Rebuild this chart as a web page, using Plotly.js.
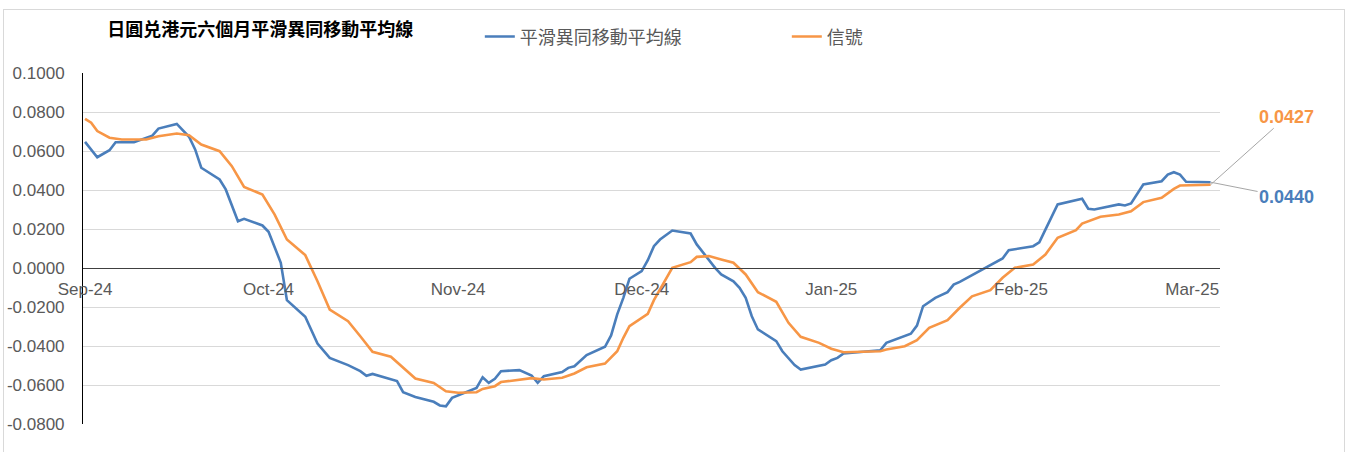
<!DOCTYPE html>
<html>
<head>
<meta charset="utf-8">
<script src="https://cdn.plot.ly/plotly-3.0.1.min.js"></script>
<style>
  html, body { margin: 0; padding: 0; background: #ffffff; }
  #frame { position: absolute; left: 3px; top: 9px; width: 1342px; height: 460px; border: 1px solid #d9d9d9; box-sizing: border-box; }
  #chart { position: absolute; left: 0; top: 0; width: 1354px; height: 452px; }
</style>
</head>
<body>
<div id="frame"></div>
<div id="chart"></div>
<script>
// ---- data ----
const chartTitle = "日圓兑港元六個月平滑異同移動平均線";
const macdName = "平滑異同移動平均線";
const signalName = "信號";

const macdDates = [
  "2024-09-01","2024-09-03","2024-09-05","2024-09-06","2024-09-09","2024-09-12","2024-09-13","2024-09-16",
  "2024-09-18","2024-09-19","2024-09-20","2024-09-23","2024-09-24","2024-09-26","2024-09-27","2024-09-30",
  "2024-10-01","2024-10-03","2024-10-04","2024-10-07","2024-10-09","2024-10-11","2024-10-14","2024-10-16",
  "2024-10-17","2024-10-18","2024-10-22","2024-10-23","2024-10-25","2024-10-28","2024-10-29","2024-10-30",
  "2024-10-31","2024-11-02","2024-11-04","2024-11-05","2024-11-06","2024-11-07","2024-11-08","2024-11-11",
  "2024-11-13","2024-11-14","2024-11-15","2024-11-18","2024-11-19","2024-11-20","2024-11-22","2024-11-25",
  "2024-11-26","2024-11-27","2024-11-28","2024-11-29","2024-12-01","2024-12-02","2024-12-03","2024-12-04",
  "2024-12-06","2024-12-09","2024-12-10","2024-12-13","2024-12-14","2024-12-16","2024-12-17","2024-12-18",
  "2024-12-19","2024-12-20","2024-12-23","2024-12-24","2024-12-26","2024-12-27","2024-12-30","2024-12-31",
  "2025-01-01","2025-01-02","2025-01-03","2025-01-09","2025-01-10","2025-01-14","2025-01-15","2025-01-16",
  "2025-01-18","2025-01-20","2025-01-21","2025-01-22","2025-01-29","2025-01-30","2025-02-03","2025-02-04",
  "2025-02-05","2025-02-07","2025-02-11","2025-02-12","2025-02-13","2025-02-17","2025-02-18","2025-02-19",
  "2025-02-21","2025-02-24","2025-02-25","2025-02-26","2025-02-27","2025-02-28","2025-03-04"
];
const macdValues = [
  0.0647,0.0568,0.0604,0.0645,0.0645,0.0679,0.0715,0.0739,
  0.0673,0.0608,0.0514,0.0454,0.0403,0.0240,0.0252,0.0218,
  0.0186,0.0027,-0.0165,-0.0250,-0.0387,-0.0461,-0.0498,-0.0529,
  -0.0553,-0.0543,-0.0580,-0.0637,-0.0661,-0.0686,-0.0705,-0.0709,
  -0.0666,-0.0640,-0.0615,-0.0560,-0.0589,-0.0568,-0.0529,-0.0524,
  -0.0551,-0.0589,-0.0555,-0.0534,-0.0512,-0.0504,-0.0447,-0.0404,
  -0.0346,-0.0238,-0.0153,-0.0055,-0.0016,0.0040,0.0112,0.0146,
  0.0192,0.0177,0.0121,0.0001,-0.0033,-0.0068,-0.0102,-0.0153,
  -0.0247,-0.0315,-0.0375,-0.0427,-0.0498,-0.0521,-0.0504,-0.0495,
  -0.0473,-0.0461,-0.0438,-0.0422,-0.0384,-0.0337,-0.0295,-0.0196,
  -0.0153,-0.0124,-0.0085,-0.0071,0.0049,0.0091,0.0112,0.0132,
  0.0197,0.0326,0.0355,0.0304,0.0300,0.0326,0.0321,0.0331,
  0.0428,0.0445,0.0479,0.0491,0.0479,0.0442,0.0440
];

const signalDates = [
  "2024-09-01","2024-09-02","2024-09-03","2024-09-05","2024-09-07","2024-09-11","2024-09-13","2024-09-16",
  "2024-09-18","2024-09-20","2024-09-23","2024-09-25","2024-09-27","2024-09-30","2024-10-02","2024-10-04",
  "2024-10-07","2024-10-09","2024-10-11","2024-10-14","2024-10-16","2024-10-18","2024-10-21","2024-10-23",
  "2024-10-25","2024-10-28","2024-10-30","2024-11-01","2024-11-04","2024-11-05","2024-11-07","2024-11-08",
  "2024-11-11","2024-11-13","2024-11-15","2024-11-18","2024-11-20","2024-11-22","2024-11-25","2024-11-27",
  "2024-11-28","2024-11-29","2024-12-02","2024-12-03","2024-12-06","2024-12-09","2024-12-10","2024-12-12",
  "2024-12-14","2024-12-16","2024-12-18","2024-12-20","2024-12-23","2024-12-25","2024-12-27","2024-12-30",
  "2025-01-01","2025-01-03","2025-01-09","2025-01-10","2025-01-13","2025-01-15","2025-01-17","2025-01-20",
  "2025-01-22","2025-01-24","2025-01-27","2025-01-29","2025-01-31","2025-02-03","2025-02-05","2025-02-07",
  "2025-02-10","2025-02-11","2025-02-14","2025-02-17","2025-02-19","2025-02-21","2025-02-24","2025-02-26",
  "2025-02-27","2025-03-04"
];
const signalValues = [
  0.0765,0.0745,0.0702,0.0668,0.0659,0.0659,0.0676,0.0690,
  0.0681,0.0633,0.0599,0.0522,0.0416,0.0377,0.0274,0.0146,
  0.0066,-0.0068,-0.0213,-0.0273,-0.0350,-0.0430,-0.0455,-0.0512,
  -0.0567,-0.0589,-0.0632,-0.0640,-0.0637,-0.0620,-0.0606,-0.0585,
  -0.0575,-0.0565,-0.0572,-0.0563,-0.0541,-0.0509,-0.0490,-0.0427,
  -0.0358,-0.0298,-0.0235,-0.0165,0.0001,0.0030,0.0057,0.0061,
  0.0044,0.0027,-0.0033,-0.0124,-0.0173,-0.0281,-0.0353,-0.0384,
  -0.0414,-0.0432,-0.0427,-0.0418,-0.0401,-0.0370,-0.0307,-0.0268,
  -0.0204,-0.0145,-0.0114,-0.0050,0.0001,0.0018,0.0069,0.0155,
  0.0194,0.0228,0.0263,0.0274,0.0291,0.0338,0.0360,0.0406,
  0.0423,0.0427
];

const xTickVals = ["2024-09-01","2024-10-01","2024-11-01","2024-12-01","2025-01-01","2025-02-01","2025-03-01"];
const xTickText = ["Sep-24","Oct-24","Nov-24","Dec-24","Jan-25","Feb-25","Mar-25"];
const yTickVals = [0.1, 0.08, 0.06, 0.04, 0.02, 0, -0.02, -0.04, -0.06, -0.08];
const yTickText = ["0.1000","0.0800","0.0600","0.0400","0.0200","0.0000","-0.0200","-0.0400","-0.0600","-0.0800"];

// ---- styles ----
const blue = "#4a7ebb";
const orange = "#f79646";
const grey = "#595959";
const fontFam = "'Liberation Sans', Arial, 'Noto Sans CJK TC', sans-serif";
const cjkFam = "'Noto Sans CJK TC', 'Liberation Sans', sans-serif";

const yMin = -0.08, yMax = 0.1;

const traces = [
  { x: macdDates, y: macdValues, type: "scatter", mode: "lines", name: macdName,
    line: { color: blue, width: 2.6 } },
  { x: signalDates, y: signalValues, type: "scatter", mode: "lines", name: signalName,
    line: { color: orange, width: 2.6 } }
];

const lastMacdX = macdDates[macdDates.length - 1];
const lastMacdY = macdValues[macdValues.length - 1];
const lastSigX = signalDates[signalDates.length - 1];
const lastSigY = signalValues[signalValues.length - 1];

const layout = {
  width: 1354, height: 452,
  margin: { l: 83, r: 134, t: 73, b: 28 },
  paper_bgcolor: "rgba(0,0,0,0)",
  plot_bgcolor: "rgba(0,0,0,0)",
  font: { family: fontFam, color: grey, size: 17 },
  title: {
    text: "<b>" + chartTitle + "</b>",
    font: { family: cjkFam, size: 18, color: "#000000" },
    x: 0.156, xref: "paper", xanchor: "center",
    y: 0.934, yref: "container", yanchor: "middle"
  },
  showlegend: true,
  legend: {
    orientation: "h",
    x: 0.349, xanchor: "left",
    y: 1.103, yanchor: "middle",
    entrywidth: 262, entrywidthmode: "pixels",
    font: { family: cjkFam, size: 18, color: grey },
    itemwidth: 30,
    bgcolor: "rgba(0,0,0,0)"
  },
  xaxis: {
    type: "date",
    range: ["2024-08-31 16:00", "2025-03-05 13:00"],
    tickmode: "array", tickvals: xTickVals, ticktext: xTickText,
    showgrid: false, zeroline: false,
    showline: true, linecolor: "#404040", linewidth: 1,
    anchor: "free", position: (0 - yMin) / (yMax - yMin),
    ticks: "", ticklabelstandoff: 6,
    tickfont: { family: fontFam, size: 17, color: grey }
  },
  yaxis: {
    range: [yMin, yMax],
    tickmode: "array", tickvals: yTickVals, ticktext: yTickText,
    showgrid: true, gridcolor: "#d9d9d9", gridwidth: 1,
    zeroline: false,
    showline: true, linecolor: "#000000", linewidth: 1,
    ticks: "", ticklabelstandoff: 14,
    tickfont: { family: fontFam, size: 17, color: grey }
  },
  annotations: [
    { x: lastSigX, y: lastSigY, xref: "x", yref: "y",
      text: "<b>" + lastSigY.toFixed(4) + "</b>",
      font: { family: fontFam, size: 18, color: orange },
      showarrow: true, arrowhead: 0, arrowwidth: 1, arrowcolor: "#a6a6a6",
      ax: 76, ay: -68, xanchor: "center", yanchor: "middle" },
    { x: lastMacdX, y: lastMacdY, xref: "x", yref: "y",
      text: "<b>" + lastMacdY.toFixed(4) + "</b>",
      font: { family: fontFam, size: 18, color: blue },
      showarrow: true, arrowhead: 0, arrowwidth: 1, arrowcolor: "#a6a6a6",
      ax: 76, ay: 15, xanchor: "center", yanchor: "middle" }
  ]
};

Plotly.newPlot("chart", traces, layout, { displayModeBar: false, staticPlot: true });
</script>
</body>
</html>
